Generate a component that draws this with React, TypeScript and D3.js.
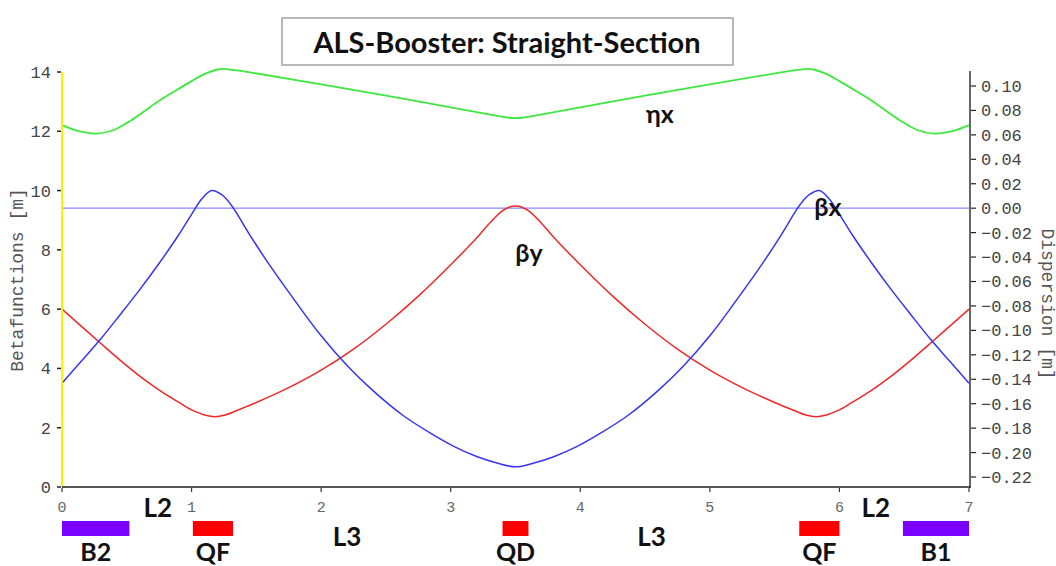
import React from "react";
import * as d3 from "d3";

// ---- data ----
const xTicks = [0, 1, 2, 3, 4, 5, 6, 7];
const leftTicks = [0, 2, 4, 6, 8, 10, 12, 14];
const rightTicks = [-0.22, -0.2, -0.18, -0.16, -0.14, -0.12, -0.1, -0.08, -0.06, -0.04, -0.02, 0, 0.02, 0.04, 0.06, 0.08, 0.1];

// βx [s, m]
const betaX: [number, number][] = [
  [0, 3.5], [0.15, 4.25], [0.3, 5.0], [0.45, 5.82], [0.6, 6.66], [0.75, 7.55], [0.9, 8.5],
  [1.0, 9.2], [1.08, 9.72], [1.155, 10.0], [1.23, 9.87], [1.3, 9.55], [1.35, 9.22], [1.45, 8.5],
  [1.6, 7.5], [1.8, 6.27], [2.0, 5.1], [2.2, 4.1], [2.4, 3.25], [2.63, 2.42], [2.85, 1.8],
  [3.02, 1.38], [3.2, 1.03], [3.35, 0.82], [3.5, 0.68],
  [3.65, 0.82], [3.8, 1.03], [3.98, 1.38], [4.15, 1.8], [4.37, 2.42], [4.6, 3.25], [4.8, 4.1],
  [5.0, 5.1], [5.2, 6.27], [5.4, 7.5], [5.55, 8.5], [5.65, 9.22], [5.7, 9.55], [5.77, 9.87],
  [5.845, 10.0], [5.92, 9.72], [6.0, 9.2], [6.1, 8.5], [6.25, 7.55], [6.4, 6.66], [6.55, 5.82],
  [6.7, 5.0], [6.85, 4.25], [7, 3.5],
];

// βy [s, m]
const betaY: [number, number][] = [
  [0, 6.0], [0.15, 5.42], [0.3, 4.84], [0.45, 4.27], [0.6, 3.74], [0.75, 3.27], [0.9, 2.86],
  [1.0, 2.6], [1.1, 2.43], [1.18, 2.37], [1.26, 2.43], [1.35, 2.58], [1.5, 2.85], [1.75, 3.35],
  [2.0, 3.94], [2.25, 4.65], [2.5, 5.49], [2.75, 6.44], [3.0, 7.5], [3.2, 8.4], [3.3, 8.9],
  [3.4, 9.32], [3.45, 9.44], [3.5, 9.48],
  [3.55, 9.44], [3.6, 9.32], [3.7, 8.9], [3.8, 8.4], [4.0, 7.5], [4.25, 6.44], [4.5, 5.49],
  [4.75, 4.65], [5.0, 3.94], [5.25, 3.35], [5.5, 2.85], [5.65, 2.58], [5.74, 2.43], [5.82, 2.37],
  [5.9, 2.43], [6.0, 2.6], [6.1, 2.86], [6.25, 3.27], [6.4, 3.74], [6.55, 4.27], [6.7, 4.84],
  [6.85, 5.42], [7, 6.0],
];

// ηx [s, m]
const etaX: [number, number][] = [
  [0, 0.068], [0.13, 0.063], [0.27, 0.061], [0.4, 0.064], [0.52, 0.071], [0.63, 0.079],
  [0.75, 0.088], [0.885, 0.0967], [1.0, 0.104], [1.116, 0.1105], [1.2, 0.1135], [1.25, 0.114],
  [1.32, 0.1132], [1.45, 0.1112], [2.48, 0.0925], [3.38, 0.0752], [3.45, 0.074], [3.5, 0.0737],
  [3.55, 0.074], [3.62, 0.0752], [4.52, 0.0925], [5.55, 0.1112], [5.68, 0.1132], [5.75, 0.114],
  [5.8, 0.1135], [5.884, 0.1105], [6.0, 0.104], [6.115, 0.0967], [6.25, 0.088], [6.37, 0.079],
  [6.48, 0.071], [6.6, 0.064], [6.73, 0.061], [6.87, 0.063], [7, 0.068],
];

// ηy (zero line)
const etaY: [number, number][] = [[0, 0], [7, 0]];

// lattice elements
const elemNames = ["B2", "QF", "QD", "QF", "B1"];
const elemStart = [0, 1.01, 3.4, 5.69, 6.49];
const elemEnd = [0.52, 1.32, 3.6, 6.0, 7.0];
const elemKind = ["bend", "quad", "quad", "quad", "bend"];

// drift labels
const driftNames = ["L2", "L3", "L3", "L2"];
const driftPos = [0.74, 2.2, 4.55, 6.28];

const MONO = "'Liberation Mono', 'Courier New', monospace";
const SANS = "Lato, 'Open Sans', sans-serif";

export default function App() {
  const x = d3.scaleLinear().domain([0, 7]).range([62, 969]);
  const yL = d3.scaleLinear().domain([0, 14]).range([487, 72]);
  const yR = d3.scaleLinear().domain([-0.22, 0.1]).range([477, 86]);

  const curve = d3.curveCatmullRom.alpha(0.5);
  const lineL = d3.line<[number, number]>().x((d) => x(d[0])).y((d) => yL(d[1])).curve(curve);
  const lineR = d3.line<[number, number]>().x((d) => x(d[0])).y((d) => yR(d[1])).curve(curve);

  const fmtR = d3.format(".2f");

  return (
    <svg width={1056} height={566} style={{ position: "absolute", left: 0, top: 0, background: "#fff" }}>
      <rect x={0} y={0} width={1056} height={566} fill="#fff" />

      {/* title */}
      <rect x={282} y={18} width={451} height={47} fill="#fff" stroke="#b8b8b8" strokeWidth={2} />
      <text x={507} y={53} textAnchor="middle" fontFamily={SANS} fontWeight={700} fontSize={29} fill="#111">
        ALS-Booster: Straight-Section
      </text>

      {/* zero dispersion line */}
      <path d={lineR(etaY) || ""} fill="none" stroke="#8a8aff" strokeWidth={1.2} />

      {/* curves */}
      <path d={lineR(etaX) || ""} fill="none" stroke="#3ee83e" strokeWidth={1.8} />
      <path d={lineL(betaY) || ""} fill="none" stroke="#f02828" strokeWidth={1.5} />
      <path d={lineL(betaX) || ""} fill="none" stroke="#3636f0" strokeWidth={1.5} />

      {/* axes */}
      <line x1={62} y1={72} x2={62} y2={487} stroke="#f5f500" strokeWidth={2} />
      <line x1={62} y1={487} x2={971} y2={487} stroke="#555" strokeWidth={2} />
      <line x1={970} y1={71} x2={970} y2={488} stroke="#333" strokeWidth={1.5} />

      {leftTicks.map((t) => (
        <g key={"l" + t}>
          <line x1={57} x2={61} y1={yL(t)} y2={yL(t)} stroke="#222" strokeWidth={1.5} />
          <text x={51} y={yL(t)} dy="0.35em" textAnchor="end" fontFamily={MONO} fontSize={17} fill="#444">
            {t}
          </text>
        </g>
      ))}
      {rightTicks.map((t) => (
        <g key={"r" + t}>
          <line x1={971} x2={976} y1={yR(t)} y2={yR(t)} stroke="#222" strokeWidth={1.2} />
          <text x={981} y={yR(t)} dy="0.35em" textAnchor="start" fontFamily={MONO} fontSize={17} fill="#444">
            {fmtR(t)}
          </text>
        </g>
      ))}
      {xTicks.map((t) => (
        <g key={"x" + t}>
          <line x1={x(t)} x2={x(t)} y1={488} y2={492} stroke="#333" strokeWidth={1.2} />
          <text x={x(t)} y={507} dy="0.35em" textAnchor="middle" fontFamily={MONO} fontSize={15} fill="#666">
            {t}
          </text>
        </g>
      ))}

      <text transform="translate(23,280) rotate(-90)" textAnchor="middle" fontFamily={MONO} fontSize={18} fill="#555">
        Betafunctions [m]
      </text>
      <text transform="translate(1042,304) rotate(90)" textAnchor="middle" fontFamily={MONO} fontSize={18} fill="#555">
        Dispersion [m]
      </text>

      {/* curve labels */}
      <text x={660} y={123} textAnchor="middle" fontFamily={SANS} fontWeight={700} fontSize={25} fill="#111">ηx</text>
      <text x={529} y={262} textAnchor="middle" fontFamily={SANS} fontWeight={700} fontSize={25} fill="#111">βy</text>
      <text x={828} y={216} textAnchor="middle" fontFamily={SANS} fontWeight={700} fontSize={25} fill="#111">βx</text>

      {/* lattice */}
      {elemNames.map((n, i) => (
        <g key={"e" + i}>
          <rect
            x={x(elemStart[i])}
            y={521}
            width={x(elemEnd[i]) - x(elemStart[i])}
            height={15}
            fill={elemKind[i] === "bend" ? "#7a00ff" : "#ff0000"}
          />
          <text
            x={(x(elemStart[i]) + x(elemEnd[i])) / 2}
            y={561}
            textAnchor="middle"
            fontFamily={SANS}
            fontWeight={700}
            fontSize={25}
            fill="#111"
          >
            {n}
          </text>
        </g>
      ))}
      {driftNames.map((n, i) => (
        <text
          key={"d" + i}
          x={x(driftPos[i])}
          y={n === "L2" ? 517 : 546}
          textAnchor="middle"
          fontFamily={SANS}
          fontWeight={700}
          fontSize={26}
          fill="#111"
        >
          {n}
        </text>
      ))}
    </svg>
  );
}
